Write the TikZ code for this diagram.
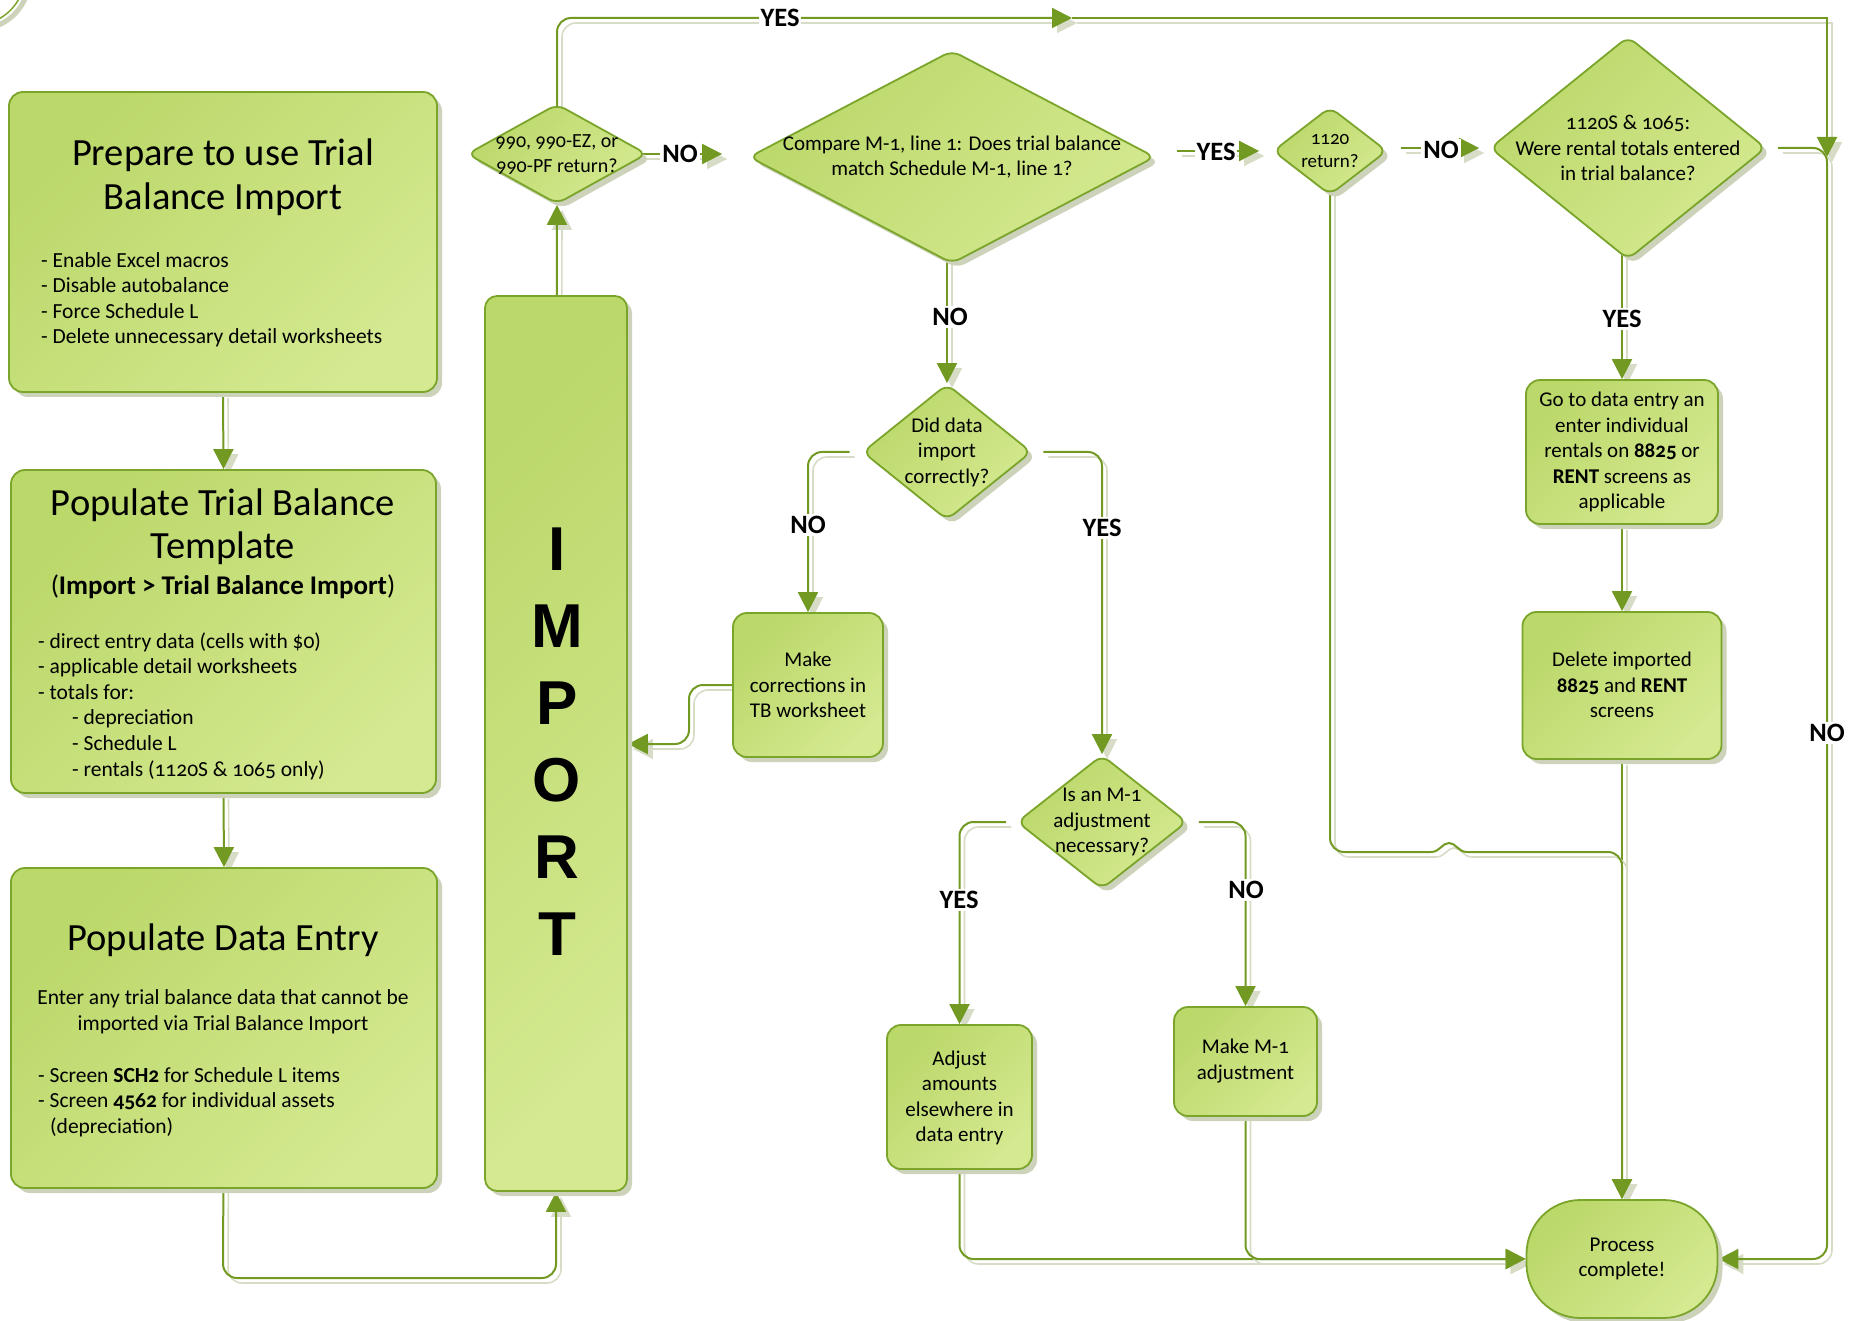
\documentclass[tikz,border=0pt]{standalone}
\usepackage{fontspec}
\setmainfont{Carlito}[Numbers=OldStyle]
\newfontfamily\impfont{Liberation Sans}
\usetikzlibrary{shapes.geometric,arrows.meta,shadows}
\pgfdeclarelayer{bg}
\pgfsetlayers{bg,main}
\definecolor{fillA}{RGB}{187,216,106}
\definecolor{fillB}{RGB}{212,233,144}
\definecolor{edge}{RGB}{122,164,42}
\definecolor{lineg}{RGB}{114,154,34}
\definecolor{shadowc}{RGB}{204,211,186}
\definecolor{lshadow}{RGB}{214,220,198}
\tikzset{
  base/.style={draw=edge, line width=1.8pt, top color=fillA, bottom color=fillB, shading angle=45,
    drop shadow={shadow xshift=5pt, shadow yshift=-5pt, fill=shadowc, opacity=1}, inner sep=0pt},
  rbox/.style={base, rectangle, rounded corners=14pt},
  dbox/.style={base, diamond, rounded corners=9pt},
  conn/.style={draw=lineg, line width=2pt, rounded corners=14pt},
  cshadow/.style={draw=lshadow, line width=1.6pt, rounded corners=14pt, transform canvas={shift={(5pt,-5pt)}}},
  arr/.style={-{Triangle[length=20pt,width=20pt]}},
  lbl/.style={font=\bfseries\fontsize{26.5}{28}\selectfont, fill=white, inner sep=2pt},
  txt/.style={align=center, font=\fontsize{21}{25.5}\selectfont, inner sep=0pt},
  ltxt/.style={align=left, anchor=west, font=\fontsize{21.5}{25.5}\selectfont, inner sep=0pt},
  ttl/.style={align=center, font=\fontsize{38.5}{44}\selectfont, inner sep=0pt},
}
\newcommand\lk[2][]{\path[cshadow,#1] #2; \path[conn,#1] #2;}
\begin{document}
\begin{tikzpicture}[x=1pt,y=-1pt]
\useasboundingbox (0,0) rectangle (1856,1321);

% stray shape at the top-left corner
\draw[shadowc, line width=5pt] (-21,-21) circle (50);
\draw[edge, line width=1.5pt] (-25,-25) circle (50);

% ---------- shapes ----------
\node[rbox, minimum width=428pt, minimum height=300pt] (prep) at (223,242) {};
\node[rbox, minimum width=425pt, minimum height=323pt] (tmpl) at (223.5,631.5) {};
\node[rbox, minimum width=426pt, minimum height=320pt] (data) at (224,1028) {};
\node[rbox, rounded corners=12pt, minimum width=142pt, minimum height=895pt] (imp) at (556,743.5) {};
\node[dbox, minimum width=180pt, minimum height=100pt] (D1) at (557,154) {};
\node[dbox, minimum width=406pt, minimum height=213pt] (D2) at (952,157) {};
\node[dbox, minimum width=114pt, minimum height=88pt] (D3) at (1330,151) {};
\node[dbox, minimum width=276pt, minimum height=223pt] (D4) at (1628,148) {};
\node[dbox, minimum width=169pt, minimum height=136pt] (D5) at (947,452) {};
\node[dbox, minimum width=170pt, minimum height=134pt] (D6) at (1102,822) {};
\node[rbox, minimum width=192pt, minimum height=144pt] (G) at (1622,452) {};
\node[rbox, minimum width=199pt, minimum height=147pt] (Del) at (1622,685.5) {};
\node[rbox, minimum width=150pt, minimum height=144pt] (MC) at (808,685) {};
\node[rbox, minimum width=145pt, minimum height=144pt] (Adj) at (959.5,1097) {};
\node[rbox, minimum width=143pt, minimum height=109pt] (M1) at (1245.5,1061.5) {};
\node[rbox, rounded corners=54pt, minimum width=191pt, minimum height=118pt] (PC) at (1622,1259) {};

% ---------- texts ----------
\node[ttl] (t1a) at (223,177) {Prepare to use Trial\\Balance Import};
\node[ltxt] (t1b) at (41,300) {- Enable Excel macros\\- Disable autobalance\\- Force Schedule L\\- Delete unnecessary detail worksheets};
\node[ttl, font=\fontsize{38.5}{43}\selectfont] (t2a) at (223,527) {Populate Trial Balance\\Template};
\node[txt, font=\fontsize{27}{30}\selectfont] (t2b) at (223,587) {(\textbf{Import > Trial Balance Import})};
\node[ltxt, font=\fontsize{21.5}{25.6}\selectfont] (t2c) at (38,706) {- direct entry data (cells with \$0)\\- applicable detail worksheets\\- totals for:\\\hspace*{34pt}- depreciation\\\hspace*{34pt}- Schedule L\\\hspace*{34pt}- rentals (1120S \& 1065 only)};
\node[ttl] (t3a) at (223,940) {Populate Data Entry};
\node[txt, font=\fontsize{21.5}{26}\selectfont] (t3b) at (223,1012) {Enter any trial balance data that cannot be\\imported via Trial Balance Import};
\node[ltxt] (t3c) at (38,1102) {- Screen \textbf{SCH2} for Schedule L items\\- Screen \textbf{4562} for individual assets\\\hspace*{12pt}(depreciation)};
\node[align=center, inner sep=0pt, font=\impfont\bfseries\fontsize{62}{77}\selectfont] (timp) at (557,742) {I\\M\\P\\O\\R\\T};
\node[txt, font=\fontsize{20}{25}\selectfont] (tD1) at (557,155) {990, 990-EZ, or\\990-PF return?};
\node[txt] (tD2) at (952,157) {Compare M-1, line 1: Does trial balance\\match Schedule M-1, line 1?};
\node[txt, font=\fontsize{19}{23}\selectfont] (tD3) at (1330,151) {1120\\return?};
\node[txt] (tD4) at (1628,148) {1120S \& 1065:\\Were rental totals entered\\in trial balance?};
\node[txt] (tD5) at (947,452) {Did data\\import\\correctly?};
\node[txt] (tD6) at (1102,822) {Is an M-1\\adjustment\\necessary?};
\node[txt] (tG) at (1622,452) {Go to data entry an\\enter individual\\rentals on \textbf{8825} or\\\textbf{RENT} screens as\\applicable};
\node[txt] (tDel) at (1622,685) {Delete imported\\\textbf{8825} and \textbf{RENT}\\screens};
\node[txt] (tMC) at (808,685) {Make\\corrections in\\TB worksheet};
\node[txt] (tAdj) at (959.5,1098) {Adjust\\amounts\\elsewhere in\\data entry};
\node[txt] (tM1) at (1245.5,1061) {Make M-1\\adjustment};
\node[txt] (tPC) at (1622,1259) {Process\\complete!};

% ---------- connectors ----------
\coordinate (ytip) at (1072,18);
\coordinate (ydown) at (1827,157);
\begin{pgfonlayer}{bg}
\lk[arr]{(prep.south) -- (tmpl.north)}
\lk[arr]{(tmpl.south) -- (data.north)}
\lk[arr]{(data.center) -- (223,1278) -- (imp.south |- 223,1278) -- (imp.south)}
\lk[arr]{(imp.center) -- (D1.south)}
\lk[arr]{(D1.center) |- (ytip)}
\lk[arr, sharp corners]{(ytip) -- (1827,18) -- (ydown)}
\lk[arr, shorten >=26pt]{(D1.center) -- (D2.west |- D1.center)}
\lk[arr, shorten <=21pt, shorten >=13pt]{(D2.east |- D3.west) -- (D3.west)}
\lk[arr, shorten <=13pt, shorten >=10pt]{(D3.east |- D4.west) -- (D4.west)}
\lk[arr]{(D5.north |- D2.center) -- (D5.north)}
\lk[arr]{([xshift=-12pt]D5.west) -| (MC.north)}
\lk[arr]{([xshift=11pt]D5.east) -| (D6.north)}
\lk[arr]{(MC.center) -- (689,685) -- (689,744) -- (imp.east |- 689,744)}
\lk[arr]{([xshift=-10pt]D6.west) -| (Adj.north)}
\lk[arr]{([xshift=11pt]D6.east) -| (M1.north)}
\lk[arr]{(G.north |- D4.center) -- (G.north)}
\lk[arr]{(G.south) -- (Del.north)}
\lk[arr]{(Del.south) -- (PC.north)}
\lk{(D3.center) -- (1330,852) -- (1431,852)}
\lk[sharp corners]{(1431,852) .. controls (1440,852) and (1442,843) .. (1449,843) .. controls (1456,843) and (1458,852) .. (1467,852)}
\lk[arr]{(1467,852) -- (1622,852) -- (PC.north)}
\lk[arr]{(Adj.center) |- (PC.west)}
\lk[arr]{(M1.center) |- (PC.west)}
\lk[arr]{([xshift=11pt]D4.east) -| (1827,1259) -- (PC.east)}
\end{pgfonlayer}

% ---------- labels ----------
\node[lbl] (lyes1) at (780,18) {YES};
\node[lbl] (lno1) at (680,154) {NO};
\node[lbl] (lyes2) at (1216,152) {YES};
\node[lbl] (lno2) at (1441,150) {NO};
\node[lbl] (lno3) at (950,317) {NO};
\node[lbl] (lno4) at (808,525) {NO};
\node[lbl] (lyes3) at (1102,528) {YES};
\node[lbl] (lyes4) at (959,900) {YES};
\node[lbl] (lno5) at (1246,890) {NO};
\node[lbl] (lyes5) at (1622,319) {YES};
\node[lbl] (lno6) at (1827,733) {NO};
\end{tikzpicture}
\end{document}
